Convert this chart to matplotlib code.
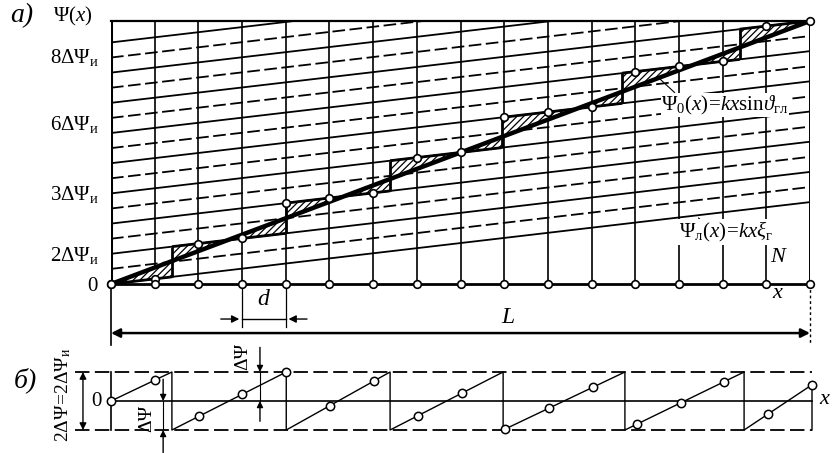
import numpy as np
import matplotlib
matplotlib.use('Agg')
import matplotlib.pyplot as plt

plt.rcParams['font.family'] = ['Liberation Serif', 'DejaVu Serif']
plt.rcParams['mathtext.fontset'] = 'custom'
plt.rcParams['mathtext.rm'] = 'Liberation Serif'
plt.rcParams['mathtext.it'] = 'Liberation Serif:italic'
plt.rcParams['mathtext.bf'] = 'Liberation Serif:bold'
plt.rcParams['hatch.linewidth'] = 0.9

# ---------------- data (x in units of d, phase in units of ΔΨи) ----------------
nodes = [0, 1, 2, 3, 4, 5, 6, 7, 8, 9, 10, 11, 12, 13, 14, 15, 16]
level_lines = [0, 1, 2, 3, 4, 5, 6, 7, 8, 9, 10, 11, 12, 13, 14, 15, 16]
psi_l_slope = 0.339          # slope of Ψл(x) lines
psi0_start = 0.0
psi0_end = 17.42             # Ψ0 at x = L (node 16)
step_x = [1.40, 4.00, 6.39, 8.94, 11.70, 14.39]
step_levels = [0, 2, 4, 6, 8, 10, 12]
node_levels = [0, 0, 2, 2, 4, 4, 4, 6, 6, 8, 8, 8, 10, 10, 10, 12, 12]
ytick_labels = [r'$0$', r'$2\Delta\Psi_{\mathrm{и}}$', r'$3\Delta\Psi_{\mathrm{и}}$',
                r'$6\Delta\Psi_{\mathrm{и}}$', r'$8\Delta\Psi_{\mathrm{и}}$']
ytick_pos = [0, 2.05, 6.09, 10.73, 15.17]

# panel б: phase error sawtooth (units of ΔΨ)
saw_x = [0, 1.39, 1.39, 4.00, 4.00, 6.37, 6.37, 8.95, 8.95, 11.73, 11.73, 14.45, 14.45, 16.0, 16.0]
saw_y = [0, 1, -1, 1, -1, 1, -1, 1, -1, 1, -1, 1, -1, 0.56, -1]
err_values = [0, 0.72, -0.53, 0.24, 1.0, -0.16, 0.69, -0.51, 0.26, -0.96, -0.25, 0.47,
              -0.80, -0.07, 0.67, -0.45, 0.56]

W, H = 832, 453
fig = plt.figure(figsize=(W / 100, H / 100), dpi=100)
fig.patch.set_facecolor('white')

# ---------------- panel а ----------------
ax = fig.add_axes([111 / W, 1 - 284 / H, (810 - 111) / W, (284 - 21) / H])
xmax = nodes[-1]
ax.set_xlim(0, xmax)
ax.set_ylim(0, psi0_end)
for s in ax.spines.values():
    s.set_visible(False)
ax.set_xticks([])
ax.set_yticks(ytick_pos, labels=ytick_labels)
ax.tick_params(axis='y', length=0, pad=9, labelsize=15)

xx = np.array([0, xmax], dtype=float)
# family of Ψл lines
for j in level_lines:
    ls = '-' if j % 2 == 0 else (0, (7, 2.5))
    ax.plot(xx, j + psi_l_slope * xx, color='k', lw=1.3, ls=ls, zorder=2)

# node verticals
for i in nodes[1:-1]:
    ax.plot([i, i], [0, psi0_end], color='k', lw=1.2, zorder=2)
# frame
ax.plot([0, 0], [0, psi0_end], color='k', lw=2.2, zorder=3)
ax.plot([xmax, xmax], [0, psi0_end], color='k', lw=1.4, zorder=3)
ax.plot([0, xmax], [psi0_end, psi0_end], color='k', lw=1.6, zorder=3, clip_on=False)
ax.plot([0, xmax], [0, 0], color='k', lw=2.0, zorder=3, clip_on=False)

# staircase (quantized phase) and hatched error
psi0_slope = (psi0_end - psi0_start) / xmax
bounds = [0] + step_x + [xmax]
for k, lvl in enumerate(step_levels):
    xs = np.array([bounds[k], bounds[k + 1]])
    ax.fill_between(xs, psi0_start + psi0_slope * xs, lvl + psi_l_slope * xs,
                    facecolor='white', edgecolor='k', hatch='/////', lw=0, zorder=3)
    ax.plot(xs, lvl + psi_l_slope * xs, color='k', lw=2.0, zorder=4,
            solid_capstyle='butt')
sx = np.array(step_x)
ax.vlines(sx, np.array(step_levels[:-1]) + psi_l_slope * sx,
          np.array(step_levels[1:]) + psi_l_slope * sx, color='k', lw=2.0, zorder=4)

# Ψ0 thick line
ax.plot(xx, psi0_start + psi0_slope * xx, color='k', lw=3.2, zorder=5,
        solid_capstyle='round')

# circles
nd = np.array(nodes, dtype=float)
ax.plot(nd, np.array(node_levels) + psi_l_slope * nd, 'o', ms=5.5, mfc='white', mec='k',
        mew=1.2, zorder=7, clip_on=False)
ax.plot(nd, np.zeros_like(nd), 'o', ms=5.5, mfc='white', mec='k', mew=1.2, zorder=7,
        clip_on=False)

# labels inside panel а
ax.annotate('', xy=(12.5, 13.75), xytext=(12.95, 12.55),
            arrowprops=dict(arrowstyle='-', lw=0.8, color='k'), zorder=6)
ax.text(12.6, 11.85, r'$\Psi_0(x)\!=\!kx\mathrm{sin}\vartheta_{\mathrm{гл}}$', fontsize=15,
        ha='left', va='center', zorder=6,
        bbox=dict(facecolor='white', edgecolor='none', pad=0.5))
ax.annotate('', xy=(13.40, 4.50), xytext=(13.66, 3.80),
            arrowprops=dict(arrowstyle='-', lw=0.8, color='k'), zorder=6)
ax.text(13.0, 3.45, r'$\Psi_{\mathrm{л}}(x)\!=\!kx\xi_{\mathrm{г}}$', fontsize=15,
        ha='left', va='center', zorder=6,
        bbox=dict(facecolor='white', edgecolor='none', pad=0.5))
ax.text(15.3, 1.75, r'$N$', fontsize=16, ha='center', va='center', zorder=6,
        bbox=dict(facecolor='white', edgecolor='none', pad=0.5))
ax.text(15.27, -0.6, r'$x$', fontsize=16, ha='center', va='center', zorder=6)

# dimensions below panel а
ax.plot([3, 3], [0, -2.85], color='k', lw=0.9, clip_on=False)
ax.plot([4, 4], [0, -2.85], color='k', lw=0.9, clip_on=False)
ax.annotate('', xy=(3, -2.32), xytext=(2.45, -2.32), annotation_clip=False,
            arrowprops=dict(arrowstyle='-|>', lw=1.0, color='k', mutation_scale=11))
ax.annotate('', xy=(4, -2.32), xytext=(4.55, -2.32), annotation_clip=False,
            arrowprops=dict(arrowstyle='-|>', lw=1.0, color='k', mutation_scale=11))
ax.plot([3, 4], [-2.32, -2.32], color='k', lw=1.0, clip_on=False)
ax.text(3.5, -1.05, r'$d$', fontsize=17, ha='center', va='center')
ax.plot([0, 0], [0, -4.05], color='k', lw=1.2, clip_on=False)
ax.plot([xmax, xmax], [0, -4.05], color='k', lw=1.0, ls=(0, (2, 2)), clip_on=False)
ax.annotate('', xy=(0, -3.25), xytext=(xmax, -3.25), annotation_clip=False,
            arrowprops=dict(arrowstyle='<|-|>', lw=1.8, color='k', mutation_scale=13,
                            shrinkA=0, shrinkB=0))
ax.text(9.1, -2.2, r'$L$', fontsize=17, ha='center', va='center')

# ---------------- panel б ----------------
bx = fig.add_axes([111 / W, 1 - 430 / H, (812 - 111) / W, (430 - 372) / H])
bx.set_xlim(0, xmax)
bx.set_ylim(-1, 1)
bx.axis('off')
bx.plot([-0.82, xmax], [1, 1], color='k', lw=1.3, ls=(0, (8, 3)), clip_on=False)
bx.plot([-0.82, xmax], [-1, -1], color='k', lw=1.3, ls=(0, (8, 3)), clip_on=False)
bx.plot([0, xmax], [0, 0], color='k', lw=1.2, clip_on=False)
bx.plot([0, 0], [-1, 1], color='k', lw=1.2, clip_on=False)
bx.plot(saw_x, saw_y, color='k', lw=1.0, clip_on=False)
bx.plot(nodes, err_values, 'o', ms=6, mfc='white', mec='k', mew=1.1, zorder=5, clip_on=False)
bx.annotate('', xy=(-0.64, 1), xytext=(-0.64, -1), annotation_clip=False,
            arrowprops=dict(arrowstyle='<|-|>', lw=1.0, color='k', mutation_scale=10,
                            shrinkA=0, shrinkB=0))
bx.text(-0.32, 0, r'$0$', fontsize=15, ha='center', va='center')
bx.text(16.3, 0.05, r'$x$', fontsize=16, ha='center', va='center')
bx.text(-1.1, 0.2, r'$2\Delta\Psi\!=\!2\Delta\Psi_{\mathrm{и}}$', fontsize=14, rotation=90,
        ha='center', va='center')
# ΔΨ dims
bx.annotate('', xy=(1.19, 0), xytext=(1.19, 0.75), annotation_clip=False,
            arrowprops=dict(arrowstyle='-|>', lw=1.0, color='k', mutation_scale=9,
                            shrinkA=0, shrinkB=0))
bx.annotate('', xy=(1.19, -1), xytext=(1.19, -1.78), annotation_clip=False,
            arrowprops=dict(arrowstyle='-|>', lw=1.0, color='k', mutation_scale=9,
                            shrinkA=0, shrinkB=0))
bx.plot([1.19, 1.19], [0, -1], color='k', lw=0.8)
bx.text(0.82, -0.59, 'ΔΨ', fontsize=14, rotation=90, ha='center', va='center')
bx.annotate('', xy=(3.4, 1), xytext=(3.4, 1.85), annotation_clip=False,
            arrowprops=dict(arrowstyle='-|>', lw=1.0, color='k', mutation_scale=9,
                            shrinkA=0, shrinkB=0))
bx.annotate('', xy=(3.4, 0), xytext=(3.4, -0.7), annotation_clip=False,
            arrowprops=dict(arrowstyle='-|>', lw=1.0, color='k', mutation_scale=9,
                            shrinkA=0, shrinkB=0))
bx.plot([3.4, 3.4], [0, 1], color='k', lw=0.8)
bx.text(3.01, 1.52, 'ΔΨ', fontsize=14, rotation=90, ha='center', va='center')

# panel letters and axis title
fig.text(22 / W, 1 - 16 / H, 'а)', fontsize=20, style='italic', ha='center', va='center')
fig.text(73 / W, 1 - 16 / H, r'$\Psi(x)$', fontsize=15, ha='center', va='center')
fig.text(25 / W, 1 - 380 / H, 'б)', fontsize=20, style='italic', ha='center', va='center')

fig.savefig('out.png', dpi=100, facecolor='white')
